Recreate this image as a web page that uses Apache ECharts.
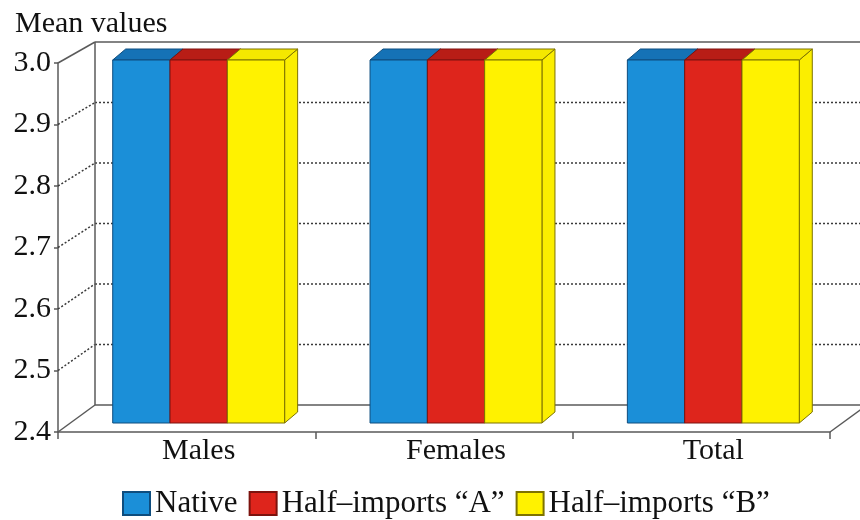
<!DOCTYPE html>
<html>
<head>
<meta charset="utf-8">
<script src="https://cdn.jsdelivr.net/npm/echarts@6/dist/echarts.min.js"></script>
<style>
  html, body { margin: 0; padding: 0; background: #ffffff; }
  #chart { width: 860px; height: 520px; }
</style>
</head>
<body>
<div id="chart"></div>
<script>
// Categories and mean values per group
const categories = ['Males', 'Females', 'Total'];
const nativeValues = [3.0, 3.0, 3.0];
const halfImportsA = [3.0, 3.0, 3.0];
const halfImportsB = [3.0, 3.0, 3.0];
const seriesNames = ['Native', 'Half–imports “A”', 'Half–imports “B”'];
const yTicks = [2.4, 2.5, 2.6, 2.7, 2.8, 2.9, 3.0];
const yMin = 2.4;
const yMax = 3.0;
const yStep = 0.1;

const FONT = '"Liberation Serif", "Times New Roman", serif';
const TEXT_COLOR = '#111111';
const FRAME_COLOR = '#5a5a5a';

// Face colours for each series: front, top, side, outline
const palette = [
  { front: '#1b8fd8', top: '#1572b6', side: '#1780c6', edge: '#0e4d7e' },
  { front: '#de251c', top: '#b81d16', side: '#c8211a', edge: '#7c130e' },
  { front: '#fff200', top: '#f4e800', side: '#fbee00', edge: '#7d7300' }
];

// Depth of the back wall relative to the front plane
const WALL_DX = 37;
const WALL_DY_TOP = -21;
const WALL_DY_BOTTOM = -27;
// Depth of each bar
const BAR_DX = 13;
const BAR_DY = -11;
const BAR_FRACTION = 0.2227;

// Frame: diagonals from the front axis to the back wall, back grid lines, wall edges
function renderFrame(params, api) {
  const cs = params.coordSys;
  const v = api.value(1);
  const py = api.coord([0, v])[1];
  const backTop = cs.y + WALL_DY_TOP;
  const backBottom = cs.y + cs.height + WALL_DY_BOTTOM;
  const toBack = (y) => backTop + (y - cs.y) / cs.height * (backBottom - backTop);
  const bx = cs.x + WALL_DX;
  const by = toBack(py);
  const isEdge = Math.abs(v - yMin) < 1e-9 || Math.abs(v - yMax) < 1e-9;
  const lineStyle = isEdge
    ? { stroke: FRAME_COLOR, lineWidth: 1.5 }
    : { stroke: '#3a3a3a', lineWidth: 1.5, lineDash: [2, 2] };
  const children = [
    { type: 'line', shape: { x1: cs.x, y1: py, x2: bx, y2: by }, style: lineStyle },
    { type: 'line', shape: { x1: bx, y1: by, x2: cs.x + cs.width + 80, y2: by }, style: lineStyle }
  ];
  if (Math.abs(v - yMax) < 1e-9) {
    children.push({
      type: 'line',
      shape: { x1: bx, y1: by, x2: bx, y2: backBottom },
      style: { stroke: FRAME_COLOR, lineWidth: 1.5 }
    });
  }
  if (Math.abs(v - yMin) < 1e-9) {
    const rx = cs.x + cs.width;
    children.push({
      type: 'line',
      shape: { x1: rx, y1: py, x2: rx + WALL_DX, y2: toBack(py) },
      style: { stroke: FRAME_COLOR, lineWidth: 1.5 }
    });
  }
  return { type: 'group', children: children };
}

// A bar drawn as a box: front face, top face and right side face
function makeBarRenderer(index) {
  const c = palette[index];
  return function (params, api) {
    const cat = api.value(0);
    const val = api.value(1);
    const topPt = api.coord([cat, val]);
    const basePt = api.coord([cat, yMin]);
    const bandW = api.size([1, 0])[0];
    const barW = bandW * BAR_FRACTION;
    const x0 = topPt[0] + (index - 1.5) * barW;
    const x1 = x0 + barW;
    const top = topPt[1];
    const bottom = basePt[1];
    const edge = { stroke: c.edge, lineWidth: 1, lineJoin: 'round' };
    return {
      type: 'group',
      children: [
        {
          type: 'polygon',
          shape: { points: [[x1, top], [x1 + BAR_DX, top + BAR_DY], [x1 + BAR_DX, bottom + BAR_DY], [x1, bottom]] },
          style: Object.assign({ fill: c.side }, edge)
        },
        {
          type: 'polygon',
          shape: { points: [[x0, top], [x1, top], [x1 + BAR_DX, top + BAR_DY], [x0 + BAR_DX, top + BAR_DY]] },
          style: Object.assign({ fill: c.top }, edge)
        },
        {
          type: 'rect',
          shape: { x: x0, y: top, width: barW, height: bottom - top },
          style: Object.assign({ fill: c.front }, edge)
        }
      ]
    };
  };
}

const valueLists = [nativeValues, halfImportsA, halfImportsB];

const barSeries = valueLists.map((values, i) => ({
  name: seriesNames[i],
  type: 'custom',
  xAxisIndex: 1,
  yAxisIndex: 1,
  z: 5,
  itemStyle: { color: palette[i].front, borderColor: palette[i].edge, borderWidth: 1 },
  renderItem: makeBarRenderer(i),
  encode: { x: 0, y: 1 },
  data: values.map((v, k) => [k, v])
}));

const chart = echarts.init(document.getElementById('chart'), null, { renderer: 'canvas' });

chart.setOption({
  animation: false,
  backgroundColor: '#ffffff',
  title: {
    text: 'Mean values',
    left: 10,
    top: 4,
    textStyle: { fontFamily: FONT, fontSize: 30, fontWeight: 'normal', color: TEXT_COLOR }
  },
  legend: {
    data: seriesNames,
    left: 117,
    top: 483,
    icon: 'rect',
    itemWidth: 27,
    itemHeight: 23,
    itemGap: 11,
    textStyle: { fontFamily: FONT, fontSize: 31, color: TEXT_COLOR, padding: [0, 0, 0, 0] }
  },
  grid: [
    // front plane of the frame
    { left: 58, right: 30, top: 63, bottom: 88, containLabel: false },
    // plane the bars stand in
    { left: 70, right: 18, top: 60, bottom: 97, containLabel: false }
  ],
  xAxis: [
    {
      gridIndex: 0,
      type: 'category',
      data: categories,
      boundaryGap: true,
      axisLine: { show: true, lineStyle: { color: FRAME_COLOR, width: 1.5 } },
      axisTick: { show: true, length: 7, interval: 0, lineStyle: { color: FRAME_COLOR, width: 1.5 } },
      axisLabel: { show: false },
      splitLine: { show: false }
    },
    {
      gridIndex: 1,
      type: 'category',
      data: categories,
      boundaryGap: true,
      axisLine: { show: false },
      axisTick: { show: false },
      axisLabel: { show: true, margin: 13, fontFamily: FONT, fontSize: 30, color: TEXT_COLOR },
      splitLine: { show: false }
    }
  ],
  yAxis: [
    {
      gridIndex: 0,
      type: 'value',
      min: yMin,
      max: yMax,
      interval: yStep,
      axisLine: { show: true, lineStyle: { color: FRAME_COLOR, width: 1.5 } },
      axisTick: { show: true, length: 4, lineStyle: { color: FRAME_COLOR, width: 1.5 } },
      axisLabel: {
        show: true,
        margin: 7,
        fontFamily: FONT,
        fontSize: 30,
        color: TEXT_COLOR,
        formatter: (v) => v.toFixed(1)
      },
      splitLine: { show: false }
    },
    {
      gridIndex: 1,
      type: 'value',
      min: yMin,
      max: yMax,
      interval: yStep,
      show: false
    }
  ],
  series: [
    {
      name: 'frame',
      type: 'custom',
      xAxisIndex: 0,
      yAxisIndex: 0,
      z: 1,
      silent: true,
      renderItem: renderFrame,
      encode: { x: 0, y: 1 },
      data: yTicks.map((v) => [0, v])
    }
  ].concat(barSeries)
});
</script>
</body>
</html>
